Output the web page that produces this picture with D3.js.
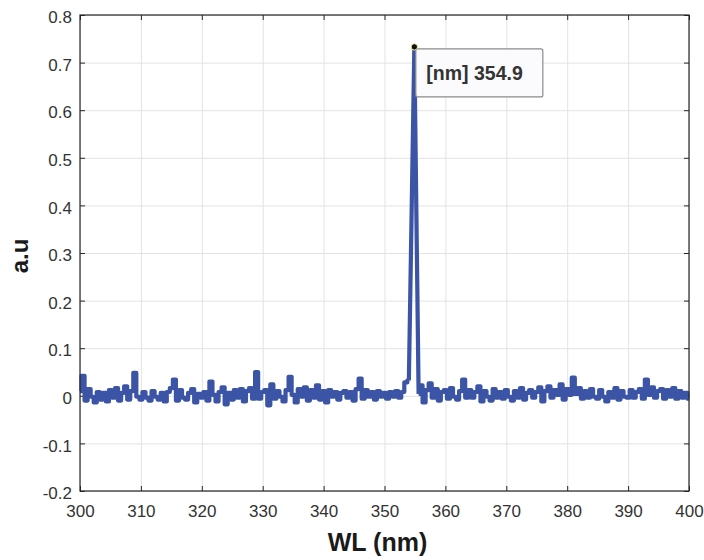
<!DOCTYPE html>
<html>
   <head>
      <title>Spectrum</title>
      <script src="https://cdn.jsdelivr.net/npm/d3@7/dist/d3.min.js"></script>
   </head>
   <style>
      body {
         margin: 0px;
         overflow: hidden;
         background: #fff;
      }

      text {
         font-family: "Liberation Sans", Arial, Helvetica, sans-serif;
      }

      .grid line {
         stroke: #e3e3e3;
         stroke-width: 1;
      }

      .grid path {
         display: none;
      }

      .tick-axis path {
         display: none;
      }

      .tick-axis line {
         stroke: #262626;
      }

      .tick-axis text {
         font-size: 17px;
         fill: #333;
      }

      .spectrum {
         fill: none;
         stroke: #3b54a6;
         stroke-width: 4.2;
         stroke-linejoin: round;
      }
   </style>
   <body>
      <svg width="704" height="560"></svg>
      <script>
         // tick labels
         const xTicks = [300, 310, 320, 330, 340, 350, 360, 370, 380, 390, 400];
         const yTicks = [-0.2, -0.1, 0, 0.1, 0.2, 0.3, 0.4, 0.5, 0.6, 0.7, 0.8];

         // baseline from 300 to 354 nm, one value every 0.5 nm
         const startLeft = 300;
         const valuesLeft = [
            0.010, 0.042, -0.010, 0.014, -0.002, -0.014, 0.008, -0.008, 0.006, -0.012,
            0.012, -0.004, 0.016, -0.010, 0.006, 0.020, -0.008, 0.010, 0.048, -0.002,
            -0.008, 0.008, -0.004, -0.010, 0.010, -0.002, -0.008, 0.006, -0.012, 0.008,
            0.016, 0.034, -0.010, 0.012, -0.004, -0.008, 0.006, 0.014, -0.014, 0.004,
            -0.004, 0.008, -0.010, 0.030, 0.002, -0.012, 0.008, 0.018, -0.018, 0.006,
            -0.008, 0.012, -0.004, 0.014, -0.012, 0.010, 0.016, -0.006, 0.050, -0.006,
            0.008, 0.012, -0.020, 0.024, -0.006, 0.010, -0.002, -0.012, 0.012, 0.040,
            0.002, -0.014, 0.014, -0.002, 0.018, -0.010, 0.012, -0.004, 0.022, -0.008,
            0.010, -0.014, 0.012, -0.002, 0.008, -0.008, 0.006, 0.010, -0.004, 0.008,
            -0.010, 0.014, 0.036, -0.006, 0.012, -0.002, 0.008, -0.008, 0.010, -0.002,
            0.006, -0.006, 0.008, -0.002, 0.010, -0.004, 0.008, 0.028,
            0.032
         ];

         // the emission line
         const peakWL = [354.0, 354.9, 355.6];
         const peakVal = [0.032, 0.733, 0.004];

         // baseline from 356 to 400 nm
         const startRight = 356;
         const valuesRight = [
            0.022, -0.014, 0.012, 0.026, -0.004, 0.014, -0.010, 0.008,
            0.012, -0.006, 0.016, -0.002, -0.008, 0.010, 0.034, -0.004, 0.012, -0.004,
            0.008, 0.020, -0.012, 0.010, -0.002, -0.010, 0.014, -0.004, 0.008, -0.006,
            0.012, -0.002, -0.010, 0.010, -0.004, 0.016, -0.008, 0.006, 0.012, -0.004,
            0.008, 0.018, -0.012, 0.010, 0.020, -0.004, 0.012, 0.002, 0.024, -0.008,
            0.014, 0.002, 0.038, 0.004, 0.016, -0.006, 0.010, -0.004, 0.014, -0.002,
            -0.006, 0.012, -0.002, -0.012, 0.008, -0.004, 0.016, -0.008, 0.010, -0.002,
            -0.004, 0.012, -0.004, 0.008, 0.014, -0.006, 0.034, 0.002, 0.018, -0.004,
            0.010, 0.014, -0.006, 0.012, -0.002, 0.016, -0.006, 0.010, -0.004, 0.006,
            -0.006
         ];
         const step = 0.5;

         (function (d3) {
            "use strict";

            const svg = d3.select("svg");
            const left = 80, right = 689, top = 15, bottom = 491;

            const x = d3.scaleLinear().domain([300, 400]).range([left, right]);
            const y = d3.scaleLinear().domain([-0.2, 0.8]).range([bottom, top]);

            const dataLeft = valuesLeft.map((v, i) => [startLeft + i * step, v]);
            const dataPeak = peakWL.map((w, i) => [w, peakVal[i]]);
            const dataRight = [dataPeak[dataPeak.length - 1]]
               .concat(valuesRight.map((v, i) => [startRight + i * step, v]));

            // grid
            svg.append("g")
               .attr("class", "grid")
               .attr("transform", `translate(0,${bottom})`)
               .call(d3.axisBottom(x).tickValues(xTicks).tickSize(-(bottom - top)).tickFormat(""));
            svg.append("g")
               .attr("class", "grid")
               .attr("transform", `translate(${left},0)`)
               .call(d3.axisLeft(y).tickValues(yTicks).tickSize(-(right - left)).tickFormat(""));

            // axes, ticks pointing inwards
            const xAxisG = svg.append("g")
               .attr("class", "tick-axis")
               .attr("transform", `translate(0,${bottom})`)
               .call(d3.axisBottom(x).tickValues(xTicks).tickSizeInner(-5).tickSizeOuter(0).tickPadding(14));
            const yAxisG = svg.append("g")
               .attr("class", "tick-axis")
               .attr("transform", `translate(${left},0)`)
               .call(d3.axisLeft(y).tickValues(yTicks).tickSizeInner(-5).tickSizeOuter(0).tickPadding(8)
                  .tickFormat((d) => String(Math.round(d * 10) / 10)));
            svg.append("g")
               .attr("class", "tick-axis")
               .attr("transform", `translate(0,${top})`)
               .call(d3.axisTop(x).tickValues(xTicks).tickSizeInner(-5).tickSizeOuter(0).tickFormat(""));
            svg.append("g")
               .attr("class", "tick-axis")
               .attr("transform", `translate(${right},0)`)
               .call(d3.axisRight(y).tickValues(yTicks).tickSizeInner(-5).tickSizeOuter(0).tickFormat(""));

            xAxisG.selectAll("text").attr("dy", "0.72em");
            yAxisG.selectAll("text").attr("dy", "0.45em");

            // the spectrum: stepped baseline, straight flanks on the line
            const stepLine = d3.line()
               .curve(d3.curveStep)
               .x((d) => x(d[0]))
               .y((d) => y(d[1]));
            const straightLine = d3.line()
               .x((d) => x(d[0]))
               .y((d) => y(d[1]));

            svg.append("path").datum(dataLeft).attr("class", "spectrum").attr("d", stepLine);
            svg.append("path").datum(dataRight).attr("class", "spectrum").attr("d", stepLine);
            svg.append("path").datum(dataPeak).attr("class", "spectrum").attr("d", straightLine);

            // box
            svg.append("rect")
               .attr("x", left)
               .attr("y", top)
               .attr("width", right - left)
               .attr("height", bottom - top)
               .attr("fill", "none")
               .attr("stroke", "#262626")
               .attr("stroke-width", 1.2);

            // data tip
            const px = x(peakWL[1]), py = y(peakVal[1]);
            const tip = svg.append("g");
            tip.append("rect")
               .attr("x", px + 1.5)
               .attr("y", py + 2)
               .attr("width", 127)
               .attr("height", 48)
               .attr("rx", 2)
               .attr("fill", "#fbfbfd")
               .attr("stroke", "#8c8c8c")
               .attr("stroke-width", 1.2);
            tip.append("text")
               .attr("x", px + 12)
               .attr("y", py + 33)
               .attr("font-size", 19.5)
               .attr("font-weight", "bold")
               .attr("fill", "#333")
               .text("[nm] " + peakWL[1]);
            tip.append("circle")
               .attr("cx", px)
               .attr("cy", py)
               .attr("r", 3.2)
               .attr("fill", "#111")
               .attr("stroke", "#f3f0a0")
               .attr("stroke-width", 1);

            // axis titles
            svg.append("text")
               .attr("x", (left + right) / 2 - 7)
               .attr("y", 551)
               .attr("text-anchor", "middle")
               .attr("font-size", 25)
               .attr("font-weight", "bold")
               .attr("fill", "#1a1a1a")
               .text("WL (nm)");
            svg.append("text")
               .attr("transform", "translate(28,256) rotate(-90)")
               .attr("text-anchor", "middle")
               .attr("font-size", 24)
               .attr("font-weight", "bold")
               .attr("fill", "#1a1a1a")
               .text("a.u");
         })(d3);
      </script>
   </body>
</html>
